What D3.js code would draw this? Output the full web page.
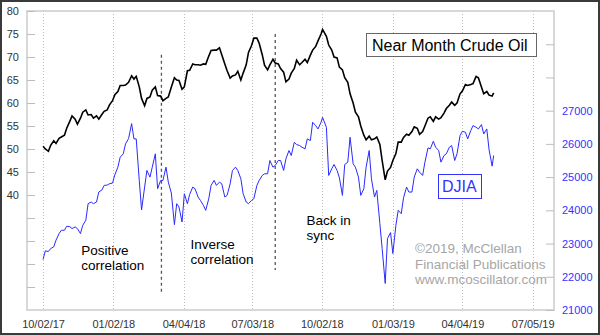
<!DOCTYPE html>
<html><head><meta charset="utf-8">
<script src="https://cdn.jsdelivr.net/npm/d3@7"></script>
<style>
html,body{margin:0;padding:0;background:#fff;}
svg{display:block;font-family:"Liberation Sans",Arial,sans-serif;}
</style></head>
<body><svg id="c" width="600" height="335"></svg>
<script>
const dates = [
"2017-10-02","2017-10-05","2017-10-09","2017-10-12","2017-10-16","2017-10-19","2017-10-23","2017-10-26","2017-10-30",
"2017-11-02","2017-11-06","2017-11-09","2017-11-13","2017-11-16","2017-11-20","2017-11-23","2017-11-27","2017-11-30",
"2017-12-04","2017-12-07","2017-12-11","2017-12-14","2017-12-18","2017-12-21","2017-12-25","2017-12-28",
"2018-01-01","2018-01-04","2018-01-08","2018-01-11","2018-01-15","2018-01-18","2018-01-22","2018-01-26","2018-01-29",
"2018-02-01","2018-02-05","2018-02-08","2018-02-12","2018-02-15","2018-02-19","2018-02-22","2018-02-26",
"2018-03-01","2018-03-05","2018-03-08","2018-03-12","2018-03-15","2018-03-19","2018-03-23","2018-03-26","2018-03-29",
"2018-04-02","2018-04-05","2018-04-09","2018-04-12","2018-04-16","2018-04-19","2018-04-23","2018-04-26","2018-04-30",
"2018-05-03","2018-05-07","2018-05-10","2018-05-14","2018-05-17","2018-05-21","2018-05-24","2018-05-28","2018-05-31",
"2018-06-04","2018-06-07","2018-06-11","2018-06-14","2018-06-18","2018-06-21","2018-06-25","2018-06-28",
"2018-07-02","2018-07-05","2018-07-09","2018-07-12","2018-07-16","2018-07-19","2018-07-23","2018-07-26","2018-07-30",
"2018-08-02","2018-08-06","2018-08-09","2018-08-13","2018-08-16","2018-08-20","2018-08-23","2018-08-27","2018-08-30",
"2018-09-03","2018-09-06","2018-09-10","2018-09-13","2018-09-17","2018-09-20","2018-09-24","2018-09-27",
"2018-10-01","2018-10-03","2018-10-08","2018-10-11","2018-10-15","2018-10-18","2018-10-22","2018-10-25","2018-10-29",
"2018-11-01","2018-11-05","2018-11-08","2018-11-12","2018-11-15","2018-11-19","2018-11-22","2018-11-26","2018-11-29",
"2018-12-03","2018-12-06","2018-12-10","2018-12-13","2018-12-17","2018-12-20","2018-12-24","2018-12-27","2018-12-31",
"2019-01-03","2019-01-07","2019-01-10","2019-01-14","2019-01-17","2019-01-21","2019-01-24","2019-01-28","2019-01-31",
"2019-02-04","2019-02-07","2019-02-11","2019-02-14","2019-02-18","2019-02-21","2019-02-25","2019-02-28",
"2019-03-04","2019-03-07","2019-03-11","2019-03-14","2019-03-18","2019-03-21","2019-03-25","2019-03-28",
"2019-04-01","2019-04-04","2019-04-08","2019-04-11","2019-04-15","2019-04-18","2019-04-22","2019-04-25","2019-04-29",
"2019-05-02","2019-05-06","2019-05-09","2019-05-13","2019-05-15"];

const crudeOil = [
50.6,50.0,49.5,50.8,51.8,51.2,52.3,52.6,53.0,
54.5,56.0,57.2,56.5,55.4,56.7,58.0,58.5,57.4,
57.5,56.7,57.2,56.5,57.5,58.2,58.5,59.6,
60.5,61.8,62.5,63.8,63.8,63.9,64.5,65.9,65.2,
65.8,63.5,61.0,59.4,61.0,61.3,62.8,63.5,
61.6,61.5,60.5,61.0,61.3,63.5,65.5,65.0,64.9,
63.0,63.5,67.0,67.1,68.5,68.3,68.3,68.2,68.5,
68.4,70.2,71.4,71.5,71.5,72.0,70.5,68.5,67.0,
65.4,65.9,66.1,66.9,65.0,66.5,68.3,71.0,
72.5,74.1,74.1,73.0,70.5,68.2,67.2,68.3,69.5,
68.7,68.5,67.5,66.7,64.6,65.2,66.5,67.5,69.3,
68.3,68.8,69.5,68.8,70.4,71.5,72.3,73.5,
75.0,76.0,74.5,72.6,71.5,70.0,69.8,67.8,67.2,
65.5,64.5,62.0,60.0,58.0,57.0,55.0,53.0,52.0,
52.8,52.0,52.2,52.6,51.0,47.5,43.3,45.2,46.0,
47.5,49.0,51.5,51.5,52.5,53.2,53.0,53.8,54.8,
54.5,53.2,53.8,55.0,56.7,57.0,56.0,57.0,
56.5,56.8,57.8,58.8,59.5,60.2,59.5,60.0,
62.0,62.6,64.0,63.8,64.0,64.2,65.8,65.5,63.5,
62.0,62.5,61.7,61.5,62.2];

const djia = [
22520,22780,22760,22850,22900,23100,23300,23400,23400,
23520,23510,23450,23500,23450,23300,23550,23700,24200,
24250,24200,24250,24550,24610,24750,24760,24800,
24820,25070,25300,25600,25700,26000,26160,26610,26150,
26150,24900,24010,24700,25200,25000,25300,25700,
24650,24900,24900,25300,24850,24520,23570,24200,24100,
23650,24500,24200,24480,24700,24650,24400,24300,24150,
24000,24350,24750,24900,24750,24850,24800,24400,24450,
24800,25200,25300,25200,24950,24500,24250,24200,
24300,24350,24750,24900,25050,25100,25100,25500,25300,
25350,25500,25500,25200,25550,25800,25650,26050,25980,
25950,25900,25850,26150,26100,26650,26550,26450,
26650,26800,26500,25050,25250,25380,25200,24980,24450,
25380,25450,26200,25400,25300,25000,24450,24650,25300,
25800,24950,24400,24600,23600,22850,21800,23150,23330,
22700,23550,24000,23900,24380,24700,24550,24550,25000,
25250,25150,25050,25450,25880,25850,26080,25900,
25800,25450,25650,25700,25900,25950,25500,25700,
26250,26380,26350,26150,26400,26550,26500,26450,26580,
26300,26450,25820,25330,25650];

const tickDates = ["2017-10-02","2018-01-02","2018-04-04","2018-07-03","2018-10-02","2019-01-03","2019-04-04","2019-07-05"];
const tickLabels = ["10/02/17","01/02/18","04/04/18","07/03/18","10/02/18","01/03/19","04/04/19","07/05/19"];
const oilTicks = [20,25,30,35,40,45,50,55,60,65,70,75,80];
const oilLabeled = [40,45,50,55,60,65,70,75,80];
const djiaTicks = [21000,22000,23000,24000,25000,26000,27000,28000,29000];
const djiaLabeled = [21000,22000,23000,24000,25000,26000,27000];
const markerDates = ["2018-03-06","2018-08-02"];
const notes = [
  {lines:["Positive","correlation"], date:"2017-11-21", oil:27.0},
  {lines:["Inverse","correlation"], date:"2018-04-13", oil:28.3},
  {lines:["Back in","sync"], date:"2018-09-12", oil:33.5}
];
const watermark = ["\u00a92019, McClellan","Financial Publications","www.mcoscillator.com"];

const parse = d3.timeParse("%Y-%m-%d");
const svg = d3.select("#c");
const L=27, R=554, T=11, B=310;

const x = d3.scaleTime().domain([parse("2017-09-11"), parse("2019-08-02")]).range([L,R]);
const yOil = d3.scaleLinear().domain([15,80]).range([B,T]);
const yDj = d3.scaleLinear().domain([21000,30000]).range([B,T]);

// outer frame
svg.append("rect").attr("x",1).attr("y",1).attr("width",598).attr("height",333)
  .attr("fill","#fff").attr("stroke","#3a3a3a").attr("stroke-width",2);

// vertical dotted grid
svg.append("g").selectAll("line").data(tickDates).join("line")
  .attr("x1",d=>Math.round(x(parse(d)))+0.5).attr("x2",d=>Math.round(x(parse(d)))+0.5)
  .attr("y1",T).attr("y2",B).attr("stroke","#bdbdbd").attr("stroke-width",1).attr("stroke-dasharray","1,2");

// plot frame
svg.append("rect").attr("x",L).attr("y",T).attr("width",R-L).attr("height",B-T)
  .attr("fill","none").attr("stroke","#cfcfcf").attr("stroke-width",1.6);

// left axis
const gL = svg.append("g").attr("transform",`translate(${L},0)`)
  .call(d3.axisRight(yOil).tickValues(oilTicks).tickSize(8).tickFormat(d=>oilLabeled.includes(d)?d:""));
gL.select(".domain").remove();
gL.selectAll(".tick line").attr("stroke","#bdbdbd");
gL.selectAll(".tick text").attr("x",-8).attr("text-anchor","end").attr("fill","#333")
  .style("font-size","11px").style("font-family","Liberation Sans, Arial, sans-serif");

// right axis
const gR = svg.append("g").attr("transform",`translate(${R},0)`)
  .call(d3.axisLeft(yDj).tickValues(djiaTicks).tickSize(8).tickFormat(d=>djiaLabeled.includes(d)?d:""));
gR.select(".domain").remove();
gR.selectAll(".tick line").attr("stroke","#bdbdbd");
gR.selectAll(".tick text").attr("x",8).attr("text-anchor","start").attr("fill","#3333ff")
  .style("font-size","11px").style("font-family","Liberation Sans, Arial, sans-serif");

// bottom axis
const gB = svg.append("g").attr("transform",`translate(0,${B})`)
  .call(d3.axisBottom(x).tickValues(tickDates.map(parse)).tickSize(0).tickFormat((d,i)=>tickLabels[i]));
gB.select(".domain").remove();
gB.selectAll(".tick text").attr("y",10).attr("fill","#333")
  .style("font-size","11px").style("font-family","Liberation Sans, Arial, sans-serif");

// dashed markers
svg.append("line").attr("x1",x(parse(markerDates[0]))).attr("x2",x(parse(markerDates[0])))
  .attr("y1",yOil(70.5)).attr("y2",yOil(18.5)).attr("stroke","#555").attr("stroke-width",1.3).attr("stroke-dasharray","3,3");
svg.append("line").attr("x1",x(parse(markerDates[1]))).attr("x2",x(parse(markerDates[1])))
  .attr("y1",yOil(75)).attr("y2",yOil(23.7)).attr("stroke","#555").attr("stroke-width",1.3).attr("stroke-dasharray","3,3");

const pts = dates.map(parse);
// DJIA line
svg.append("path").datum(djia).attr("fill","none").attr("stroke","#2a2aff").attr("stroke-width",1)
  .attr("d",d3.line().x((d,i)=>x(pts[i])).y(d=>yDj(d)));
// Oil line
svg.append("path").datum(crudeOil).attr("fill","none").attr("stroke","#000").attr("stroke-width",1.6)
  .attr("d",d3.line().x((d,i)=>x(pts[i])).y(d=>yOil(d)));

// annotations
notes.forEach(n=>{
  const t = svg.append("text").attr("x",x(parse(n.date))).attr("y",yOil(n.oil))
    .attr("fill","#000").style("font-size","13.5px");
  n.lines.forEach((s,i)=>t.append("tspan").attr("x",x(parse(n.date))).attr("dy",i?15.5:0).text(s));
});

// legend boxes
svg.append("rect").attr("x",366.5).attr("y",33.5).attr("width",170).attr("height",23)
  .attr("fill","#fff").attr("stroke","#666").attr("stroke-width",1);
svg.append("text").attr("x",372).attr("y",51).attr("fill","#000").style("font-size","16px").text("Near Month Crude Oil");
svg.append("rect").attr("x",438.5).attr("y",174.5).attr("width",43).attr("height",24)
  .attr("fill","#fff").attr("stroke","#3333ff").attr("stroke-width",1);
svg.append("text").attr("x",442).attr("y",192).attr("fill","#3333ff").style("font-size","16px").text("DJIA");

// watermark
const wm = svg.append("text").attr("x",415).attr("y",253).attr("fill","#a6a6a6").style("font-size","13.5px");
watermark.forEach((s,i)=>wm.append("tspan").attr("x",415).attr("dy",i?15.5:0).text(s));
</script></body></html>
